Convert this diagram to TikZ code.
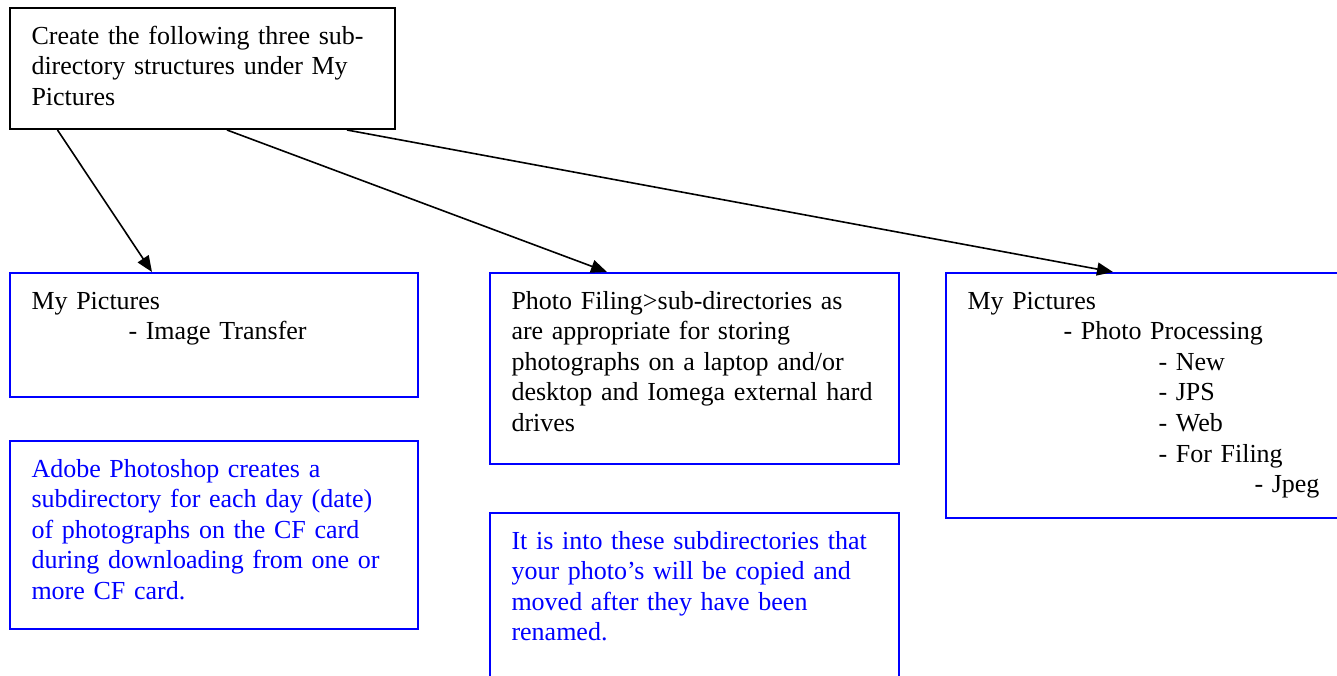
\documentclass[tikz,border=0pt]{standalone}
\usepackage{fontspec}
\setmainfont{Liberation Serif}
\usepackage{xcolor}
\definecolor{myblue}{RGB}{0, 0, 255}
\usetikzlibrary{arrows.meta}

\begin{document}
\begin{tikzpicture}[x=1pt,y=1pt,
    every node/.style={anchor=north west, align=left, inner xsep=21.5pt, inner ysep=0pt, text height=36pt, font=\fontsize{26}{30.6}\selectfont},
    blackbox/.style={draw=black, line width=2pt, text=black},
    bluebox/.style={draw=myblue, line width=2pt, text=black},
    bluenote/.style={bluebox, text=myblue},
    link/.style={line width=1.6pt, -{Triangle[length=16pt,width=13pt]}}]
    % page size: the right and bottom boxes run off it
    \useasboundingbox (0,0) rectangle (1337,-675);
    \clip (0,0) rectangle (1337,-675);

    % top box
    \node[blackbox, text width=342pt, text depth=85pt] (main) at (9,-7) {Create the following three sub-\\directory structures under My\\Pictures};

    % the three structures
    \node[bluebox, text width=365pt, text depth=88pt] (transfer) at (9,-272) {My Pictures\\\hspace*{97pt}- Image Transfer};
    \node[bluebox, text width=366pt, text depth=155pt] (filing) at (489,-272) {Photo Filing>sub-directories as\\are appropriate for storing\\photographs on a laptop and/or\\desktop and Iomega external hard\\drives};
    \node[bluebox, text width=365pt, text depth=209pt] (processing) at (945,-272) {My Pictures\\\hspace*{96pt}- Photo Processing\\\hspace*{191pt}- New\\\hspace*{191pt}- JPS\\\hspace*{191pt}- Web\\\hspace*{191pt}- For Filing\\\hspace*{287pt}- Jpeg};

    % notes (blue text)
    \node[bluenote, text width=365pt, text depth=152pt] (transfernote) at (9,-440) {Adobe Photoshop creates a\\subdirectory for each day (date)\\of photographs on the CF card\\during downloading from one or\\more CF card.};
    \node[bluenote, text width=366pt, text depth=200pt] (filingnote) at (489,-512) {It is into these subdirectories that\\your photo’s will be copied and\\moved after they have been\\renamed.};

    % arrows from the top box
    \foreach \from/\to/\dx in {48.5/transfer/143, 218/filing/118, 338/processing/168}{
        \draw[link] ([xshift=\from pt]main.south west) -- ([xshift=\dx pt]\to.north west);
    }
\end{tikzpicture}
\end{document}
